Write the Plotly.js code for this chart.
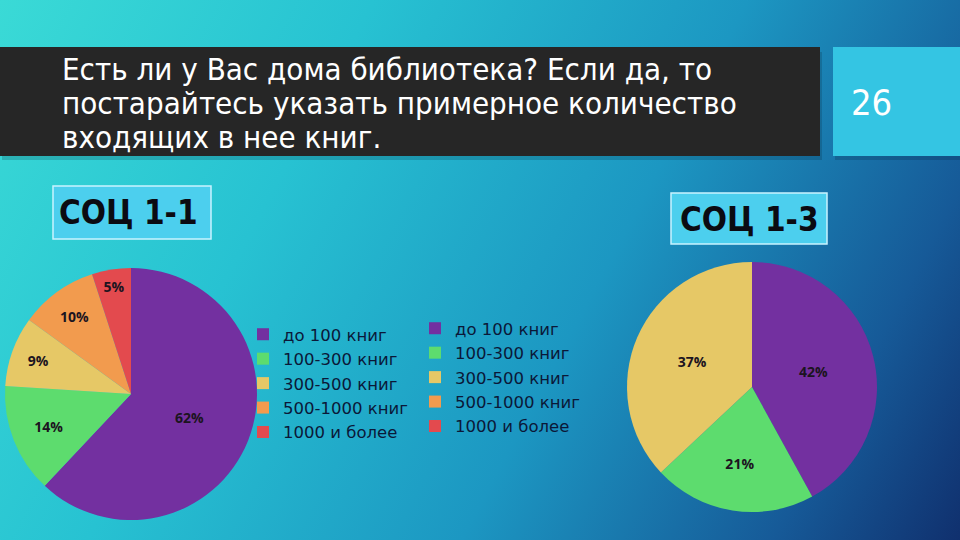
<!DOCTYPE html>
<html>
<head>
<meta charset="utf-8">
<script src="https://cdn.plot.ly/plotly-3.0.1.min.js"></script>
<style>
  html, body { margin: 0; padding: 0; width: 960px; height: 540px; overflow: hidden; }
  body { background: linear-gradient(118deg, #3adad6 0%, #27c2d2 30%, #1c97c2 60%, #165a98 85%, #10306e 100%); }
  #chart { width: 960px; height: 540px; }
</style>
</head>
<body>
<div id="chart"></div>
<script>
// ---- data ----
const categories = ["до 100 книг", "100-300 книг", "300-500 книг", "500-1000 книг", "1000 и более"];
const soc11Values = [62, 14, 9, 10, 5];
const soc13Values = [42, 21, 37, 0, 0];
const sliceColors = ["#7330a0", "#5ddc6e", "#e6c866", "#f29b4e", "#e34a4e"];
const titleLines = ["Есть ли у Вас дома библиотека? Если да, то",
                    "постарайтесь указать примерное количество",
                    "входящих в нее книг."];
const slideNumber = "26";
const group1Name = "СОЦ 1-1";
const group2Name = "СОЦ 1-3";

// ---- helpers (pixel -> paper) ----
const W = 960, H = 540;
const px = x => x / W;
const py = y => 1 - y / H;

function pctText(vals) { return vals.map(v => v > 0 ? v + "%" : ""); }

const pieCommon = {
  type: "pie",
  labels: categories,
  marker: { colors: sliceColors, line: { width: 0 } },
  sort: false,
  direction: "clockwise",
  rotation: 0,
  textinfo: "text",
  textposition: "inside",
  insidetextorientation: "horizontal",
  insidetextfont: { family: "Open Sans", size: 14, color: "#1c1420", weight: "bold" },
  hoverinfo: "label+percent"
};

const traces = [
  Object.assign({}, pieCommon, {
    values: soc11Values,
    text: pctText(soc11Values),
    domain: { x: [px(5), px(257)], y: [py(520), py(268)] },
    legend: "legend",
    legendgroup: "g1"
  }),
  Object.assign({}, pieCommon, {
    values: soc13Values,
    text: pctText(soc13Values),
    domain: { x: [px(627), px(877)], y: [py(512), py(262)] },
    legend: "legend2",
    legendgroup: "g2"
  })
];

const legendFont = { family: "DejaVu Sans", size: 16.5, color: "#0b1838" };

const titleAnnotations = titleLines.map((t, i) => ({
  text: t, xref: "paper", yref: "paper", x: px(60), y: py(69 + 34 * i),
  xanchor: "left", yanchor: "middle", align: "left", showarrow: false,
  font: { family: "DejaVu Sans Condensed", size: 31, color: "#ffffff" }
}));

const layout = {
  width: W, height: H,
  margin: { l: 0, r: 0, t: 0, b: 0 },
  paper_bgcolor: "rgba(0,0,0,0)",
  plot_bgcolor: "rgba(0,0,0,0)",
  legend: {
    x: px(243), y: py(317), xanchor: "left", yanchor: "top",
    bgcolor: "rgba(0,0,0,0)", font: legendFont, itemwidth: 30, tracegroupgap: 0
  },
  legend2: {
    x: px(415), y: py(311), xanchor: "left", yanchor: "top",
    bgcolor: "rgba(0,0,0,0)", font: legendFont, itemwidth: 30, tracegroupgap: 0
  },
  shapes: [
    // header shadow
    { type: "rect", xref: "paper", yref: "paper", x0: px(2), x1: px(822), y0: py(160), y1: py(52),
      fillcolor: "rgba(0,20,40,0.18)", line: { width: 0 } },
    { type: "rect", xref: "paper", yref: "paper", x0: px(835), x1: px(960), y0: py(160), y1: py(52),
      fillcolor: "rgba(0,20,40,0.18)", line: { width: 0 } },
    // dark header band
    { type: "rect", xref: "paper", yref: "paper", x0: px(0), x1: px(820), y0: py(156), y1: py(47),
      fillcolor: "#262626", line: { width: 0 } },
    // number box
    { type: "rect", xref: "paper", yref: "paper", x0: px(833), x1: px(960), y0: py(156), y1: py(47),
      fillcolor: "#34c5e3", line: { width: 0 } },
    // group label boxes
    { type: "rect", xref: "paper", yref: "paper", x0: px(53), x1: px(211), y0: py(239), y1: py(186),
      fillcolor: "#4ccfee", line: { color: "#c9f3ff", width: 1.5 } },
    { type: "rect", xref: "paper", yref: "paper", x0: px(671), x1: px(827), y0: py(244), y1: py(193),
      fillcolor: "#4ccfee", line: { color: "#c9f3ff", width: 1.5 } }
  ],
  annotations: titleAnnotations.concat([
    { text: slideNumber, xref: "paper", yref: "paper", x: px(871), y: py(102), xanchor: "center", yanchor: "middle",
      showarrow: false, font: { family: "DejaVu Sans Condensed", size: 36, color: "#ffffff" } },
    { text: "<b>" + group1Name + "</b>", xref: "paper", yref: "paper", x: px(128), y: py(213), xanchor: "center", yanchor: "middle",
      showarrow: false, font: { family: "DejaVu Sans Condensed", size: 33, color: "#0b0b12" } },
    { text: "<b>" + group2Name + "</b>", xref: "paper", yref: "paper", x: px(749), y: py(219), xanchor: "center", yanchor: "middle",
      showarrow: false, font: { family: "DejaVu Sans Condensed", size: 33, color: "#0b0b12" } }
  ])
};

Plotly.newPlot("chart", traces, layout, { displayModeBar: false, staticPlot: true });
</script>
</body>
</html>
